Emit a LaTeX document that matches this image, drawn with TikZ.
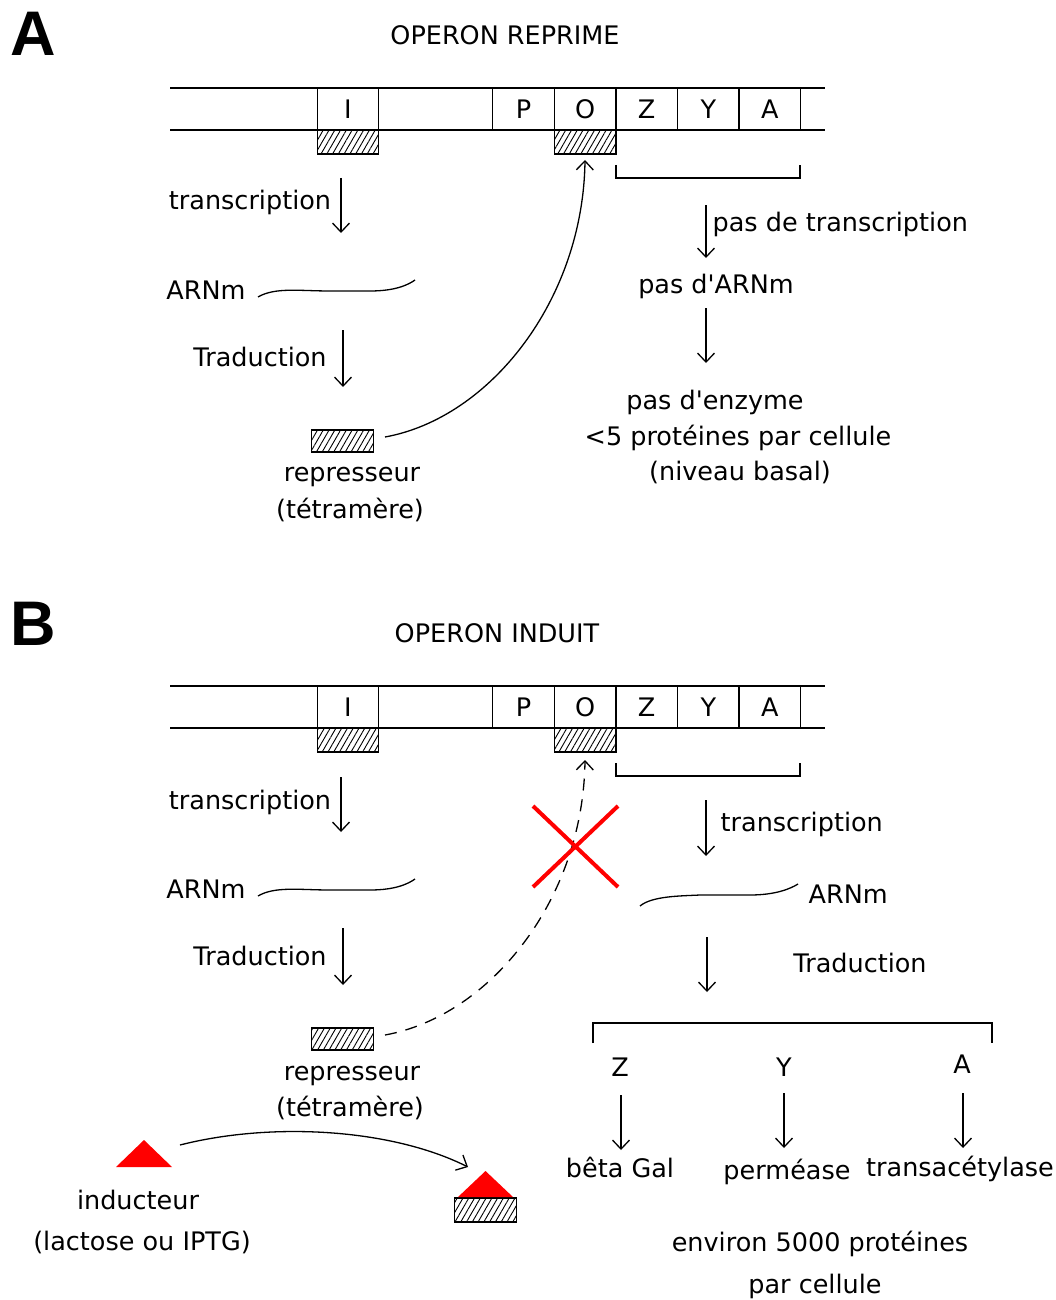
\documentclass[tikz,border=0pt]{standalone}
\usepackage{fontspec}
\setmainfont{DejaVu Sans}
\newfontfamily\panelfont{Liberation Sans}
\usetikzlibrary{positioning,arrows.meta,patterns.meta}

\begin{document}
\begin{tikzpicture}[
    x=1pt, y=-1pt,
    font=\fontsize{25.5}{30}\selectfont,
    >={Straight Barb[length=9pt,width=17pt]},
    line width=1.3pt,
    every node/.style={inner sep=0pt, text height=18.5pt, text depth=0pt},
    gene/.style={rectangle, draw, outer sep=0pt, minimum width=61.6pt, minimum height=42pt},
    hatch/.style={rectangle, draw, outer sep=0pt, pattern={Lines[angle=60,distance=5pt,line width=0.9pt]}, minimum width=61.6pt, minimum height=24pt, text height=0pt},
    panel/.style={font=\panelfont\bfseries\fontsize{63}{63}\selectfont, text height=45pt},
    arrow/.style={->},
    dasharrow/.style={->, dash pattern=on 12pt off 9pt},
    cross/.style={red, line width=4pt}
]
    \useasboundingbox (0,0) rectangle (1055,1300);

    % ---------------- Panel A : repressed operon ----------------
    \node (panelA) [panel] at (33,33) {A};
    \node (titleA) at (505,35) {OPERON REPRIME};

    % DNA
    \draw (170,88) -- (825,88);
    \draw (170,130) -- (825,130);
    \node (geneIA) [gene] at (348,109) {I};
    \node (genePA) [gene] at (523.5,109) {P};
    \node (geneOA) [gene, right=0pt of genePA] {O};
    \node (geneZA) [gene, right=0pt of geneOA] {Z};
    \node (geneYA) [gene, right=0pt of geneZA] {Y};
    \node (geneAA) [gene, right=0pt of geneYA] {A};
    \node (hatIA) [hatch, below=0pt of geneIA] {};
    \node (hatOA) [hatch, below=0pt of geneOA] {};
    \draw (616,165) -- (616,178) -- (800,178) -- (800,165);

    % repressor synthesis
    \node (trLA) at (250,200) {transcription};
    \coordinate (trLA1) at (341,178);
    \coordinate (trLA2) at (341,233);
    \draw [arrow] (trLA1) -- (trLA2);
    \node (arnLA) at (206,290) {ARNm};
    \coordinate (arnLA1) at (258,297);
    \coordinate (arnLA2) at (415,280);
    \draw (arnLA1) .. controls (275,287) and (300,291) .. (330,291)
        -- (370,291) .. controls (395,291) and (408,285) .. (arnLA2);
    \node (tdLA) at (260,357) {Traduction};
    \coordinate (tdLA1) at (343,330);
    \coordinate (tdLA2) at (343,387);
    \draw [arrow] (tdLA1) -- (tdLA2);
    \node (repA) [hatch, minimum height=22pt] at (342.5,441) {};
    \node (repLA) at (352,472) {represseur};
    \node (tetA) at (350,509) {(tétramère)};
    \coordinate (repA1) at (385,437);
    \coordinate (opA) at (585,160);
    \draw [arrow] (repA1) .. controls (490,418) and (583,300) .. (opA);

    % no expression
    \coordinate (noA1) at (706,205);
    \coordinate (noA2) at (706,258);
    \draw [arrow] (noA1) -- (noA2);
    \node (notrA) [anchor=west] at (712,222) {pas de transcription};
    \node (noarnA) at (716,284) {pas d\textquotesingle ARNm};
    \coordinate (noA3) at (706,308);
    \coordinate (noA4) at (706,363);
    \draw [arrow] (noA3) -- (noA4);
    \node (noenzA) at (715,400) {pas d\textquotesingle enzyme};
    \node (protA) at (738,436) {<5 protéines par cellule};
    \node (basalA) at (740,471) {(niveau basal)};

    % ---------------- Panel B : induced operon ----------------
    \node (panelB) [panel] at (33,623) {B};
    \node (titleB) at (497,633) {OPERON INDUIT};

    % DNA
    \draw (170,686) -- (825,686);
    \draw (170,728) -- (825,728);
    \node (geneIB) [gene] at (348,707) {I};
    \node (genePB) [gene] at (523.5,707) {P};
    \node (geneOB) [gene, right=0pt of genePB] {O};
    \node (geneZB) [gene, right=0pt of geneOB] {Z};
    \node (geneYB) [gene, right=0pt of geneZB] {Y};
    \node (geneAB) [gene, right=0pt of geneYB] {A};
    \node (hatIB) [hatch, below=0pt of geneIB] {};
    \node (hatOB) [hatch, below=0pt of geneOB] {};
    \draw (616,763) -- (616,776) -- (800,776) -- (800,763);

    % repressor synthesis
    \node (trLB) at (250,800) {transcription};
    \coordinate (trLB1) at (341,777);
    \coordinate (trLB2) at (341,832);
    \draw [arrow] (trLB1) -- (trLB2);
    \node (arnLB) at (206,889) {ARNm};
    \coordinate (arnLB1) at (258,896);
    \coordinate (arnLB2) at (415,879);
    \draw (arnLB1) .. controls (275,886) and (300,890) .. (330,890)
        -- (370,890) .. controls (395,890) and (408,884) .. (arnLB2);
    \node (tdLB) at (260,956) {Traduction};
    \coordinate (tdLB1) at (343,928);
    \coordinate (tdLB2) at (343,985);
    \draw [arrow] (tdLB1) -- (tdLB2);
    \node (repB) [hatch, minimum height=22pt] at (342.5,1039) {};
    \node (repLB) at (352,1071) {represseur};
    \node (tetB) at (350,1107) {(tétramère)};
    \coordinate (repB1) at (385,1035);
    \coordinate (opB) at (585,760);
    \draw [dasharrow] (repB1) .. controls (490,1016) and (583,900) .. (opB);
    \draw [cross] (533,806) -- (618,887) (618,806) -- (533,887);

    % expression
    \coordinate (trRB1) at (706,800);
    \coordinate (trRB2) at (706,856);
    \draw [arrow] (trRB1) -- (trRB2);
    \node (trRB) [anchor=west] at (720,822) {transcription};
    \coordinate (arnRB1) at (640,906);
    \coordinate (arnRB2) at (798,884);
    \draw (arnRB1) .. controls (652,896) and (680,896) .. (700,895)
        -- (750,895) .. controls (775,895) and (790,889) .. (arnRB2);
    \node (arnRB) [anchor=west] at (808,894) {ARNm};
    \coordinate (tdRB1) at (707,937);
    \coordinate (tdRB2) at (707,992);
    \draw [arrow] (tdRB1) -- (tdRB2);
    \node (tdRB) at (860,963) {Traduction};
    \draw (593,1043) -- (593,1023) -- (992,1023) -- (992,1043);

    \node (protZ) at (620,1067) {Z};
    \node (protY) at (784,1067) {Y};
    \node (protA) at (962,1064) {A};
    \node (galZ) at (620,1168) {bêta Gal};
    \node (permY) at (787,1170) {perméase};
    \node (transA) at (960,1167) {transacétylase};
    \coordinate (protZ1) at (621,1095);
    \coordinate (protZ2) at (621,1150);
    \coordinate (protY1) at (784,1093);
    \coordinate (protY2) at (784,1148);
    \coordinate (protA1) at (963,1093);
    \coordinate (protA2) at (963,1148);
    \draw [arrow] (protZ1) -- (protZ2);
    \draw [arrow] (protY1) -- (protY2);
    \draw [arrow] (protA1) -- (protA2);
    \node (protB) at (820,1242) {environ 5000 protéines};
    \node (cellB) at (815,1284) {par cellule};

    % inducer
    \fill [red] (116,1167) -- (144,1140) -- (172,1167) -- cycle;
    \node (indL) at (138,1200) {inducteur};
    \node (indL2) at (142,1241) {(lactose ou IPTG)};
    \node (cplx) [hatch] at (485.5,1210) {};
    \fill [red] (458,1197) -- (485.5,1171) -- (513,1197) -- cycle;
    \coordinate (ind1) at (180,1145);
    \coordinate (cplx1) at (468,1167);
    \draw [arrow] (ind1) .. controls (270,1122) and (390,1128) .. (cplx1);

\end{tikzpicture}
\end{document}
